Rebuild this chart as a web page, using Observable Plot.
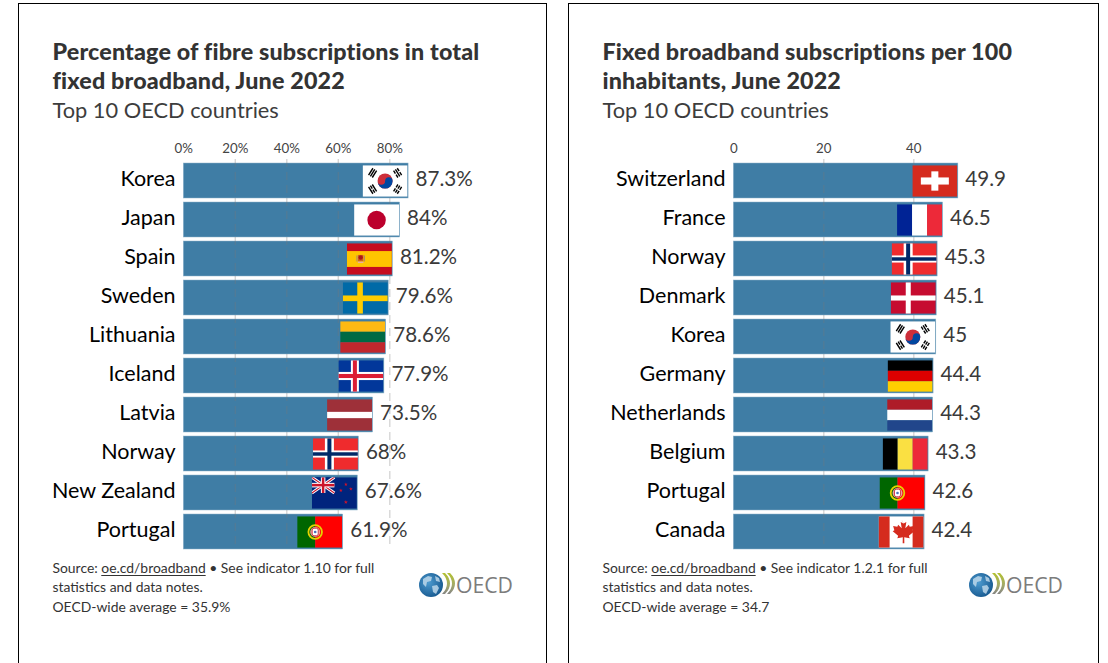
<!DOCTYPE html>
<html lang="en">
<head>
<meta charset="utf-8">
<title>OECD broadband</title>
<script src="https://cdn.jsdelivr.net/npm/d3@7"></script>
<script src="https://cdn.jsdelivr.net/npm/@observablehq/plot@0.6"></script>
<style>
html,body{margin:0;padding:0;background:#fff;overflow:hidden;width:1108px;height:663px}
body{font-family:Lato,"Noto Sans",sans-serif;position:relative}
.frame{position:absolute;top:3px;height:720px;border:1px solid #000;box-sizing:border-box}
.panel{position:absolute;left:0;top:0;width:550px;height:663px}
.panel svg.plot{position:absolute;left:0;top:0}
.head{position:absolute;left:52.500px;top:37px;width:490px;color:#333;z-index:2}
.head b{display:block;font-size:23.300px;line-height:29px;font-weight:900;letter-spacing:.15px}
.head span{display:block;font-size:21.800px;line-height:29px;font-weight:400;color:#3d3d3d}
.foot{position:absolute;left:52.500px;top:558px;width:345px;font-size:13.900px;line-height:19.400px;color:#333}
.foot u{text-underline-offset:2px}
.logo{position:absolute;left:417px;top:570px}
</style>
</head>
<body>
<div class="frame" style="left:18px;width:529px"></div>
<div class="frame" style="left:568px;width:531px"></div>
<div id="left" class="panel" style="left:0"></div>
<div id="right" class="panel" style="left:550px"></div>
<script>
// ---- data ----
const fibreCountries = ["Korea","Japan","Spain","Sweden","Lithuania","Iceland","Latvia","Norway","New Zealand","Portugal"];
const fibreValues = [87.3,84,81.2,79.6,78.6,77.9,73.5,68,67.6,61.9];
const fibreTicks = [0,20,40,60,80];
const fixedCountries = ["Switzerland","France","Norway","Denmark","Korea","Germany","Netherlands","Belgium","Portugal","Canada"];
const fixedValues = [49.9,46.5,45.3,45.1,45,44.4,44.3,43.3,42.6,42.4];
const fixedTicks = [0,20,40];

// ---- flag artwork (45x31 icons, shown with Plot.image) ----
const rect=(x,y,w,h,f)=>`<rect x="${x}" y="${y}" width="${w}" height="${h}" fill="${f}"/>`;
const hStripes=(...c)=>c.map((f,i)=>rect(0,i*31/c.length,45,31/c.length+.1,f)).join("");
const vStripes=(...c)=>c.map((f,i)=>rect(i*45/c.length,0,45/c.length+.1,31,f)).join("");
const cross=(x,y,w,h,f)=>rect(x,0,w,31,f)+rect(0,y,45,h,f);
const trigram=(cx,cy,a,broken)=>`<g transform="translate(${cx} ${cy}) rotate(${a})">`+
  [-2.2,0,2.2].map((d,i)=>broken[i]
    ? rect(-4,d-.7,3.4,1.4,"#000")+rect(.6,d-.7,3.4,1.4,"#000")
    : rect(-4,d-.7,8,1.4,"#000")).join("")+`</g>`;
const star=(x,y,r,f)=>{
  const p=d3.range(10).map(i=>{const q=i%2?r*.42:r,a=-Math.PI/2+i*Math.PI/5;return `${x+q*Math.cos(a)},${y+q*Math.sin(a)}`}).join(" ");
  return `<polygon points="${p}" fill="${f}"/>`;
};
const korea=rect(0,0,45,31,"#fff")+
  `<circle cx="22.5" cy="15.5" r="7.5" fill="#cd2e3a"/>`+
  `<path d="M15 15.5a7.5 7.5 0 0 0 15 0a3.75 3.75 0 0 0-7.5 0a3.75 3.75 0 0 1-7.5 0z" fill="#0047a0"/>`+
  trigram(10,7.5,-57,[0,0,0])+trigram(35,7.5,57,[1,0,1])+trigram(10,23.5,57,[0,1,0])+trigram(35,23.5,-57,[1,1,1]);
const portugal=rect(0,0,18,31,"#060")+rect(18,0,27,31,"#f00")+
  `<circle cx="18" cy="15.5" r="6.800" fill="none" stroke="#e5d200" stroke-width="1.800"/>`+
  `<circle cx="18" cy="15.5" r="5" fill="#e8a0a0"/><rect x="15" y="11.800" width="6" height="7.400" rx="1.800" fill="#fff" stroke="#c8202a" stroke-width=".8"/>`+
  `<circle cx="18" cy="15.5" r="1.300" fill="#4a6fb8"/>`;
const norway=rect(0,0,45,31,"#ef2b2d")+cross(12,12,9,7,"#fff")+cross(14.5,13.8,4,3.4,"#002868");
const unionJack=rect(0,0,22.5,15.5,"#00247d")+
  `<path d="M0 0L22.5 15.5M22.5 0L0 15.5" stroke="#fff" stroke-width="3"/>`+
  `<path d="M0 0L22.5 15.5M22.5 0L0 15.5" stroke="#cc142b" stroke-width="1"/>`+
  rect(9,0,4.5,15.5,"#fff")+rect(0,5.5,22.5,4.5,"#fff")+rect(10,0,2.5,15.5,"#cc142b")+rect(0,6.5,22.5,2.5,"#cc142b");
const flagArt={
  "Korea":korea,
  "Japan":rect(0,0,45,31,"#fff")+`<circle cx="22.5" cy="15.5" r="9.2" fill="#bc002d"/>`,
  "Spain":rect(0,0,45,31,"#c60b1e")+rect(0,7.7,45,15.6,"#ffc400")+
    rect(11,11.500,5.500,6.500,"#d0601e")+`<circle cx="13.800" cy="14" r="2.200" fill="#ad1519"/>`+rect(9.500,12,1.100,6,"#b08a6a")+rect(17,12,1.100,6,"#b08a6a")+rect(11,18,5.500,1.500,"#e8b0a0"),
  "Sweden":rect(0,0,45,31,"#006aa7")+cross(14.5,13,5.6,5.6,"#fecc00"),
  "Lithuania":hStripes("#fdb913","#006a44","#c1272d"),
  "Iceland":rect(0,0,45,31,"#02379a")+cross(12.5,11.5,8,8,"#fff")+cross(14.5,13.5,4,4,"#dc1e35"),
  "Latvia":rect(0,0,45,31,"#9e3039")+rect(0,12.4,45,6.2,"#fff"),
  "Norway":norway,
  "New Zealand":rect(0,0,45,31,"#00247d")+unionJack+star(34,7,1.9,"#cc142b")+star(39,11.5,1.9,"#cc142b")+star(29,13,1.9,"#cc142b")+star(34,24.5,2.1,"#cc142b"),
  "Portugal":portugal,
  "Switzerland":rect(0,0,45,31,"#d52b1e")+rect(19,6,7,19,"#fff")+rect(8.5,12,28,7,"#fff"),
  "France":vStripes("#002395","#fff","#ed2939"),
  "Denmark":rect(0,0,45,31,"#c60c30")+cross(15,13,5,5,"#fff"),
  "Germany":hStripes("#000","#d00","#ffce00"),
  "Netherlands":hStripes("#ae1c28","#fff","#21468b"),
  "Belgium":vStripes("#000","#fae042","#ed2939"),
  "Canada":rect(0,0,45,31,"#fff")+rect(0,0,11,31,"#d52b1e")+rect(34,0,11,31,"#d52b1e")+
    `<path transform="translate(22.5 15) scale(1.050)" fill="#d52b1e" d="M0-12l2.4 4.4 2.6-1.4-1 6 3.4-3.4.8 2 4-.8-1.2 4 1.6.9-5.2 4.4.8 2.2-5.2-.8.1 5.500h-1.600l.1-5.500-5.200.8.8-2.200-5.200-4.400 1.600-.9-1.200-4 4 .8.8-2 3.400 3.400-1-6 2.600 1.400z"/>`
};
const flagUri=name=>"data:image/svg+xml;charset=utf-8,"+encodeURIComponent(
  `<svg xmlns="http://www.w3.org/2000/svg" width="180" height="124" viewBox="0 0 45 31" preserveAspectRatio="none">${flagArt[name]}</svg>`);

// ---- chart ----
const FONT='Lato, "Noto Sans", sans-serif';
function drawChart(el,{countries,values,ticks,pxPerUnit,suffix,title,source}){
  const rows=countries.map((name,i)=>({name,value:values[i]}));
  const gridTicks=ticks.filter(d=>d>0);
  const top=ticks[ticks.length-1];
  const plot=Plot.plot({
    width:550,height:600,marginTop:159,marginBottom:52,marginLeft:183,marginRight:10,
    style:{fontFamily:FONT,background:"transparent",overflow:"visible"},
    x:{domain:[0,top],range:[183.3,183.3+top*pxPerUnit],axis:null},
    y:{domain:countries,range:[158.9,552.8],padding:.1,axis:null},
    marks:[
      Plot.barX(rows,{x:"value",y:"name",fill:"#3f7da5",stroke:"#8fb3cb",strokeWidth:.5}),
      Plot.gridX(gridTicks,{stroke:"#777",strokeOpacity:.3,strokeWidth:1.4,strokeDasharray:"8 5"}),
      Plot.image(rows,{x:"value",y:"name",src:d=>flagUri(d.name),width:45,height:31.5,dx:-23.5,preserveAspectRatio:"none"}),
      Plot.text(rows,{x:"value",y:"name",text:d=>d.value+suffix,dx:7,dy:-1.5,textAnchor:"start",fontSize:20.6,fill:"#3a3a3a",fontFamily:FONT}),
      Plot.axisX({anchor:"top",ticks,tickFormat:d=>d+suffix,tickSize:0,tickPadding:7,fontSize:13.3,fill:"#444",label:null,fontFamily:FONT}),
      Plot.axisY({anchor:"left",tickSize:0,tickPadding:8,dy:-1.5,fontSize:21.5,fill:"#000",label:null,fontFamily:FONT})
    ]
  });
  plot.classList.add("plot");
  el.appendChild(plot);
  const head=document.createElement("div");
  head.className="head";
  head.innerHTML=`<b>${title[0]}<br>${title[1]}</b><span>Top 10 OECD countries</span>`;
  el.appendChild(head);
  const foot=document.createElement("div");
  foot.className="foot";
  foot.innerHTML=source;
  el.appendChild(foot);
  const logo=document.createElement("div");
  logo.className="logo";
  logo.innerHTML=`<svg width="104" height="40" viewBox="0 0 104 40" xmlns="http://www.w3.org/2000/svg">
    <defs>
      <radialGradient id="g${el.id}" cx=".4" cy=".4" r=".75"><stop offset="0" stop-color="#4d9bd0"/><stop offset="1" stop-color="#0f4f86"/></radialGradient>
      <linearGradient id="c${el.id}" x1="0" y1="0" x2="0" y2="1"><stop offset="0" stop-color="#b3c130"/><stop offset=".55" stop-color="#a4ab66"/><stop offset="1" stop-color="#858585"/></linearGradient>
    </defs>
    <circle cx="14" cy="15" r="12" fill="url(#g${el.id})"/>
    <path d="M6 9l5-3 4 1-1 4-4 1-1 5-3-3zM15 16l5-1 2 3-3 6-3-2zM18 6l4 2 1 4-4-1z" fill="#bcd7ea" opacity=".85"/>
    <path d="M25 3h3q5 5 5 10.500t-5 10.500h-3q5-5 5-10.500t-5-10.500z" fill="url(#c${el.id})"/>
    <path d="M30 3h3q5 5 5 10.500t-5 10.500h-3q5-5 5-10.500t-5-10.500z" fill="url(#c${el.id})"/>
    <text x="39" y="22.500" font-family="'Open Sans',Lato,sans-serif" font-size="21" fill="#7c7c7c" textLength="57" lengthAdjust="spacingAndGlyphs">OECD</text>
  </svg>`;
  el.appendChild(logo);
}
drawChart(document.getElementById("left"),{
  countries:fibreCountries,values:fibreValues,ticks:fibreTicks,pxPerUnit:2.575,suffix:"%",
  title:["Percentage of fibre subscriptions in total","fixed broadband, June 2022"],
  source:`Source:&nbsp;<u>oe.cd/broadband</u> • See indicator 1.10 for full statistics and data notes.<br>OECD-wide average = 35.9%`
});
drawChart(document.getElementById("right"),{
  countries:fixedCountries,values:fixedValues,ticks:fixedTicks,pxPerUnit:4.5,suffix:"",
  title:["Fixed broadband subscriptions per 100","inhabitants, June 2022"],
  source:`Source:&nbsp;<u>oe.cd/broadband</u> • See indicator 1.2.1 for full statistics and data notes.<br>OECD-wide average = 34.7`
});
</script>
</body>
</html>
